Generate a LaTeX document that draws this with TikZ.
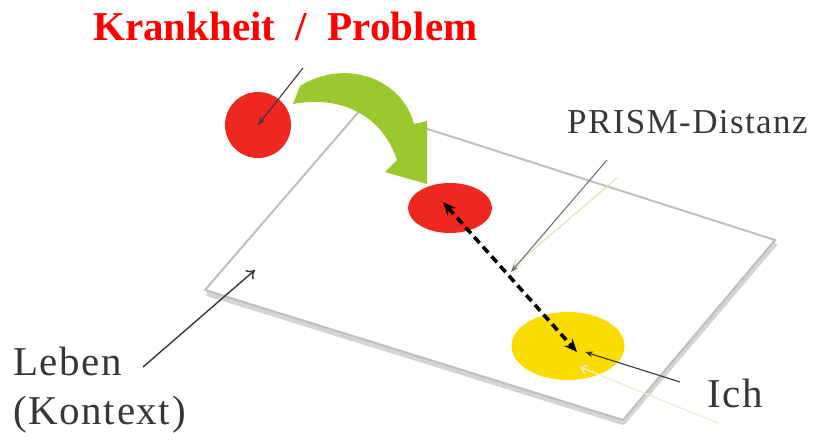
\documentclass[tikz,border=0pt]{standalone}
\usepackage{fontspec}
\setmainfont{Liberation Serif}
\newfontfamily\labelfont[LetterSpace=4]{Liberation Serif}
\usetikzlibrary{calc}
\usetikzlibrary{arrows.meta}
\usetikzlibrary{shapes.geometric}
\usetikzlibrary{positioning}

\definecolor{spotred}{RGB}{238,40,30}
\definecolor{spotyellow}{RGB}{250,220,0}
\definecolor{arrowgreen}{RGB}{155,200,45}
\definecolor{labelgray}{RGB}{55,55,55}
\definecolor{palegreen}{RGB}{225,228,195}

\tikzset{
    spot/.style={ellipse,inner sep=0pt},
    pointer/.style={draw=labelgray,line width=1.1pt,-{Stealth[length=8pt,width=6pt]}},
    palepointer/.style={draw=palegreen,line width=1.3pt,-{Straight Barb[length=6pt,width=9pt]}},
    caption/.style={inner sep=0pt,text=labelgray,font=\labelfont\fontsize{41}{49}\selectfont}
}

\begin{document}
\begin{tikzpicture}[x=1pt,y=-1pt]
        \useasboundingbox (0,0) rectangle (834,439);

        % Ebene
        \coordinate (TL) at (362,108);
        \coordinate (TR) at (775,240);
        \coordinate (BR) at (623,420);
        \coordinate (BL) at (205,290);
        \draw[black!17,line width=6pt,line join=round] ($(TR)+(0,3)$)--($(BR)+(0,2)$)--($(BL)+(2,3)$);
        \filldraw[fill=white,draw=black!25,line width=2pt,line join=round] (TL)--(TR)--(BR)--(BL)--cycle;

        % Punkte
        \node[spot,fill=spotred,minimum width=66pt,minimum height=66pt] (krank) at (258,125) {};
        \node[spot,fill=spotred,minimum width=84pt,minimum height=50pt] (krankplane) at (450,208) {};
        \node[spot,fill=spotyellow,minimum width=113pt,minimum height=68pt] (ich) at (568,346) {};

        % gruener Pfeil
        \fill[arrowgreen] (300,86) .. controls (345,58) and (402,78) .. (414,124)
            -- (427,121) -- (427,184) -- (385,172) -- (397,160)
            .. controls (380,110) and (335,96) .. (293,104) -- cycle;

        % Texte
        \node[anchor=base west,inner sep=0pt,text=red,font=\bfseries\fontsize{41}{49}\selectfont]
            (titel) at (93,40) {Krankheit~~/~~Problem};
        \node[caption,anchor=base west,font=\labelfont\fontsize{35}{42}\selectfont] (distanz) at (567,133) {PRISM-Distanz};
        \node[caption,anchor=base west] (ichlabel) at (707,407) {Ich};
        \node[caption,anchor=north west,align=left] (leben) at (13,347) {Leben\\(Kontext)};

        % Verbindungen
        \coordinate (kstart) at (303,68);
        \coordinate (ktop) at (443,202);
        \coordinate (kbottom) at (577,352);
        \coordinate (dstart) at (607,160);
        \coordinate (dend) at (511,272);
        \coordinate (dpale) at (617,178);
        \coordinate (dpaleend) at (513,267);
        \coordinate (istart) at (680,382);
        \coordinate (iend) at (585,352);
        \coordinate (ipale) at (718,423);
        \coordinate (ipaleend) at (580,367);
        \coordinate (lstart) at (143,367);
        \coordinate (lend) at (255,270);

        \draw[pointer] (kstart)--(krank.center);
        \draw[black,line width=3.6pt,dash pattern=on 8pt off 5pt,
            {Stealth[length=13pt,width=11pt]}-{Stealth[length=13pt,width=11pt]}] (ktop)--(kbottom);
        \draw[palepointer] (dpale)--(dpaleend);
        \draw[pointer,black!55] (dstart)--(dend);
        \draw[palepointer,draw=palegreen!60] (ipale)--(ipaleend);
        \draw[pointer] (istart)--(iend);
        \draw[draw=labelgray,line width=1.4pt,-{To[length=8pt,width=12pt]}] (lstart)--(lend);
    \end{tikzpicture}
\end{document}
